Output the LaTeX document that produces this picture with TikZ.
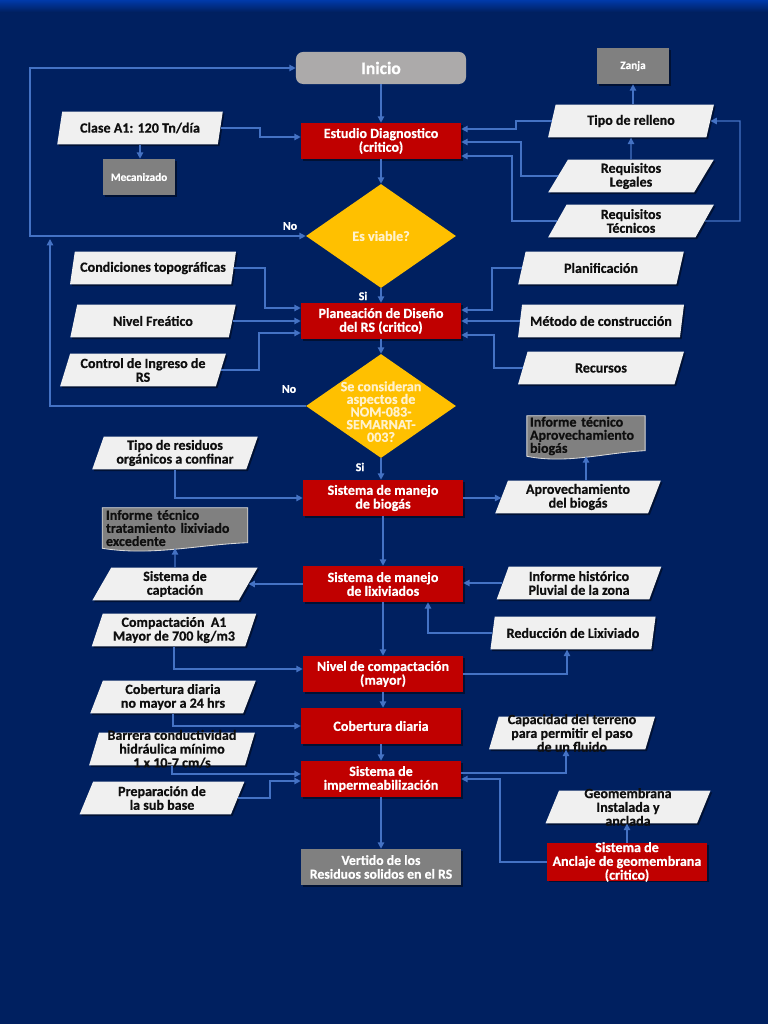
\documentclass[tikz,border=0pt]{standalone}
\usepackage{fontspec}
\setmainfont{Carlito}[BoldFeatures={FakeBold=0.5}]
\usetikzlibrary{arrows.meta,positioning,shapes.geometric,shadows}
\definecolor{navy}{RGB}{0,32,96}
\definecolor{navyhi}{RGB}{0,58,170}
\definecolor{critred}{RGB}{192,0,0}
\definecolor{decyellow}{RGB}{255,192,0}
\definecolor{paleyellow}{RGB}{255,242,204}
\definecolor{paper}{RGB}{240,240,240}
\definecolor{boxgray}{RGB}{128,128,128}
\definecolor{startgray}{RGB}{172,170,170}
\definecolor{flowblue}{RGB}{68,114,196}
\definecolor{ink}{RGB}{15,15,15}

\pgfdeclarelayer{back}
\pgfdeclarelayer{mid}
\pgfsetlayers{back,mid,main}

\begin{document}
\begin{tikzpicture}[
  x=0.025cm, y=-0.025cm,
  >={Triangle[length=4.5pt,width=4.5pt]},
  every node/.style={font=\fontsize{10}{9.8}\selectfont\bfseries},
  flow/.style={draw=flowblue, line width=1pt, ->},
  lift/.style={drop shadow={shadow xshift=1.2pt, shadow yshift=-1.2pt, opacity=.45, fill=black}},
  crit/.style={
    rectangle, fill=critred, text=white,
    minimum width=4cm, minimum height=0.9cm,
    align=center, inner sep=1pt, lift
  },
  inputbox/.style={
    trapezium, trapezium left angle=70, trapezium right angle=110,
    trapezium stretches=true, fill=paper, text=ink,
    minimum width=4.15cm, minimum height=0.82cm,
    align=center, inner sep=0pt, lift
  },
  decision/.style={diamond, fill=decyellow, minimum width=3.75cm, minimum height=2.6cm, inner sep=0pt},
  dectext/.style={text=paleyellow, align=center, font=\fontsize{10}{9}\selectfont\bfseries},
  store/.style={
    rectangle, fill=boxgray, text=white, align=center,
    minimum width=1.8cm, minimum height=0.9cm,
    font=\fontsize{8}{9}\selectfont\bfseries, lift
  },
  startbox/.style={
    rectangle, rounded corners=5pt, fill=startgray, text=white,
    minimum width=4.25cm, minimum height=0.8cm,
    font=\fontsize{12.5}{14}\selectfont\bfseries
  },
  report/.style={
    rectangle, text=ink, align=left, inner xsep=2pt, inner ysep=-2pt,
    minimum height=1cm, font=\fontsize{10}{9.3}\selectfont\bfseries
  },
  docpaper/.style={fill=boxgray, draw=white!85!black, line width=.6pt},
  note/.style={text=white, font=\fontsize{8.5}{9.8}\selectfont\bfseries}
]
\useasboundingbox (0,0) rectangle (768,1024);
\begin{pgfonlayer}{back}
  \fill[navy] (0,0) rectangle (768,1024);
  \shade[top color=navyhi, bottom color=navy] (0,0) rectangle (768,12);
\end{pgfonlayer}

% main column
\node[startbox] (inicio) at (381,68) {Inicio};
\node[crit] (estudio) at (381,141) {Estudio Diagnostico\\(critico)};
\node[decision, label={[dectext]center:Es viable?}] (viable) at (381,236) {};
\node[crit] (plan) at (381,321) {Planeación de Diseño\\del RS (critico)};
\node[decision, label={[dectext,yshift=-4pt]center:Se consideran\\aspectos de\\NOM-083-\\SEMARNAT-\\003?}] (norma) at (381,406) {};
\node[crit] (biogas) at (383,498) {Sistema de manejo\\de biogás};
\node[crit] (lixi) at (383,584) {Sistema de manejo\\de lixiviados};
\node[crit] (compact) at (383,674) {Nivel de compactación\\(mayor)};
\node[crit] (cobert) at (381,726) {Cobertura diaria};
\node[crit] (imper) at (381,779) {Sistema de\\impermeabilización};
\node[store, minimum width=4cm, font=\fontsize{9.8}{9.8}\selectfont\bfseries] (vertido) at (381,867) {Vertido de los\\Residuos solidos en el RS};

% inputs, left
\node[inputbox] (clase) at (140,128) {Clase A1: 120 Tn/día};
\node[store] (mecan) at (139,177) {Mecanizado};
\node[inputbox] (topo) at (153,268) {Condiciones topográficas};
\node[inputbox] (freatico) at (153,321) {Nivel Freático};
\node[inputbox] (ingreso) at (143,370) {Control de Ingreso de\\RS};
\node[inputbox] (residuos) at (175,453) {Tipo de residuos\\orgánicos a confinar};
\node[report, minimum width=3.625cm, text width=3.45cm] (infolix) at (175,528) {Informe técnico\\tratamiento lixiviado\\excedente};
\node[inputbox] (captacion) at (175,584) {Sistema de\\captación};
\node[inputbox] (compa1) at (174,630) {Compactación~~A1\\Mayor de 700 kg/m3};
\node[inputbox] (cob24) at (173,697) {Cobertura diaria\\no mayor a 24 hrs};
\node[inputbox, inner ysep=-5pt] (barrera) at (172,749) {Barrera conductividad\\hidráulica mínimo\\1 x 10-7 cm/s};
\node[inputbox] (subbase) at (162,798) {Preparación de\\la sub base};

% inputs, right
\node[store] (zanja) at (633,66) {Zanja};
\node[inputbox] (relleno) at (631,121) {Tipo de relleno};
\node[inputbox] (legal) at (631,176) {Requisitos\\Legales};
\node[inputbox] (tecnico) at (631,221) {Requisitos\\Técnicos};
\node[inputbox] (planif) at (601,268) {Planificación};
\node[inputbox] (metodo) at (601,321) {Método de construcción};
\node[inputbox] (recursos) at (601,368) {Recursos};
\node[report, minimum width=2.9cm, text width=2.8cm] (infbio) at (586,436) {Informe técnico\\Aprovechamiento\\biogás};
\node[inputbox] (aprov) at (578,497) {Aprovechamiento\\del biogás};
\node[inputbox] (pluvial) at (579,583) {Informe histórico\\Pluvial de la zona};
\node[inputbox] (reduccion) at (573,633) {Reducción de Lixiviado};
\node[inputbox, inner ysep=-5pt] (capac) at (572,733) {Capacidad del terreno\\para permitir el paso\\de un fluido};
\node[inputbox, inner ysep=-5pt] (geomem) at (628,807) {Geomembrana\\Instalada y\\anclada};
\node[crit, inner ysep=-1pt, minimum height=0.93cm] (anclaje) at (627,862) {Sistema de\\Anclaje de geomembrana\\(critico)};

% report sheets
\begin{pgfonlayer}{mid}
  \path[docpaper] (infbio.north west) -- (infbio.north east)
    -- ([yshift=4pt]infbio.south east) .. controls +(-40,2) and +(40,8) .. (infbio.south west) -- cycle;
  \path[docpaper] (infolix.north west) -- (infolix.north east)
    -- ([yshift=4pt]infolix.south east) .. controls +(-50,2) and +(50,8) .. (infolix.south west) -- cycle;
\end{pgfonlayer}

% decisions
\node[note] (no1) at (290,226) {No};
\node[note] (si1) at (363,296) {Si};
\node[note] (no2) at (289,389) {No};
\node[note] (si2) at (360,467) {Si};
\coordinate (backtop) at (30,236);
\coordinate (backlow) at (50,239);

% connectors
\draw[flow] (inicio.south) -- (inicio.south |- estudio.north);
\draw[flow] (estudio.south) -- (estudio.south |- viable.north);
\draw[flow] (viable.south) -- (viable.south |- plan.north);
\draw[flow] (plan.south) -- (plan.south |- norma.north);
\draw[flow] (norma.south) -- (norma.south |- biogas.north);
\draw[flow] (biogas.south) -- (biogas.south |- lixi.north);
\draw[flow] (lixi.south) -- (lixi.south |- compact.north);
\draw[flow] (compact.south) -- (compact.south |- cobert.north);
\draw[flow] (cobert.south) -- (cobert.south |- imper.north);
\draw[flow] (imper.south) -- (imper.south |- vertido.north);
\draw[flow,<->] (viable.west) -- (backtop) |- (inicio.west);
\draw[flow] (norma.west) -| (backlow);

\draw[flow] (clase.east) -| (260,137) -- (estudio.west |- 260,137);
\draw[flow] (clase.south) -- (clase.south |- mecan.north);
\draw[flow] (relleno.west) -| (516,129) -- (estudio.east |- 516,129);
\draw[flow] (legal.west) -| (521,142) -- (estudio.east |- 521,142);
\draw[flow] (tecnico.west) -| (512,156) -- (estudio.east |- 512,156);
\draw[flow] (legal.north) -- (relleno.south);
\draw[flow] (zanja.south |- relleno.north) -- (zanja.south);
\draw[flow] (tecnico.east) -| (740,121) -- (relleno.east);

\draw[flow] (topo.east) -| (265,308) -- (plan.west |- 265,308);
\draw[flow] (freatico.east) -- (freatico.east -| plan.west);
\draw[flow] (ingreso.east) -| (259,333) -- (plan.west |- 259,333);
\draw[flow] (planif.west) -| (492,310) -- (plan.east |- 492,310);
\draw[flow] (metodo.west) -- (metodo.west -| plan.east);
\draw[flow] (recursos.west) -| (494,335) -- (plan.east |- 494,335);

\draw[flow] (residuos.south) |- (biogas.west);
\draw[flow] (biogas.east) -- (biogas.east -| aprov.west);
\draw[flow] (infbio.south |- aprov.north) -- (infbio.south);

\draw[flow] (lixi.west) -- (lixi.west -| captacion.east);
\draw[flow] (captacion.north) -- (infolix.south);
\draw[flow] (pluvial.west) -- (pluvial.west -| lixi.east);
\draw[flow] (reduccion.west) -| (lixi.south -| 428,0);

\draw[flow] (compa1.south) |- (compact.west |- 0,669);
\draw[flow] (compact.east) -| (reduccion.south -| 567,0);
\draw[flow] (cob24.south) |- (cobert.west);
\draw[flow] (barrera.south) |- (imper.west |- 0,774);
\draw[flow] (subbase.east) -| (270,781) -- (imper.west |- 270,781);
\draw[flow] (imper.east |- 0,773) -| (capac.south -| 566,0);
\draw[flow] (anclaje.west) -| (500,779) -- (imper.east |- 500,779);
\draw[flow] (anclaje.north) -- (anclaje.north |- geomem.south);
\end{tikzpicture}
\end{document}
